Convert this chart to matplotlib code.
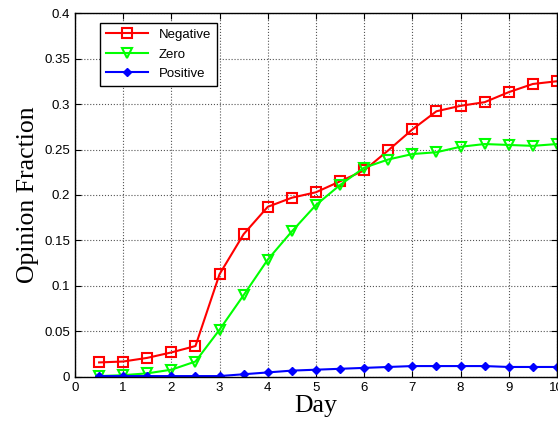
import numpy as np
import matplotlib
matplotlib.use("Agg")
import matplotlib.pyplot as plt

days = [0.5, 1, 1.5, 2, 2.5, 3, 3.5, 4, 4.5, 5, 5.5, 6, 6.5, 7, 7.5, 8, 8.5, 9, 9.5, 10]
negative = [0.016, 0.017, 0.021, 0.027, 0.034, 0.113, 0.157, 0.187, 0.197, 0.203,
            0.215, 0.227, 0.249, 0.272, 0.292, 0.298, 0.302, 0.313, 0.322, 0.325]
zero = [0.001, 0.002, 0.004, 0.008, 0.017, 0.052, 0.090, 0.129, 0.160, 0.189,
        0.211, 0.230, 0.239, 0.245, 0.247, 0.253, 0.256, 0.255, 0.254, 0.256]
positive = [0.001, 0.001, 0.001, 0.001, 0.001, 0.001, 0.003, 0.005, 0.007, 0.008,
            0.009, 0.010, 0.011, 0.012, 0.012, 0.012, 0.012, 0.011, 0.011, 0.011]

plt.rcParams['font.family'] = ['Liberation Sans', 'DejaVu Sans']

fig = plt.figure(figsize=(5.58, 4.28), dpi=100)
ax = fig.add_axes([0.1344, 0.1192, 0.8636, 0.8504])

ax.plot(days, negative, color='red', lw=1.5, marker='s', ms=7, mfc='none',
        mec='red', mew=1.5, label='Negative')
ax.plot(days, zero, color='#00ff00', lw=1.5, marker='v', ms=7.5, mfc='none',
        mec='#00ff00', mew=1.5, label='Zero')
ax.plot(days, positive, color='blue', lw=1.5, marker='D', ms=4,
        mfc='blue', mec='blue', label='Positive')

ax.set_xlim(0, 10)
ax.set_ylim(0, 0.4)
ax.set_xticks(np.arange(0, 11, 1))
ax.set_yticks(np.arange(0, 0.401, 0.05))
ax.set_yticklabels(['0', '0.05', '0.1', '0.15', '0.2', '0.25', '0.3', '0.35', '0.4'])
ax.tick_params(direction='in', top=True, right=True, labelsize=9.5, length=4)
ax.grid(True, color='#555555', linestyle=':', linewidth=0.8)
for s in ax.spines.values():
    s.set_linewidth(1.0)

ax.set_xlabel('Day', family='Liberation Serif', fontsize=18.5, labelpad=1)
ax.set_ylabel('Opinion Fraction', family='Liberation Serif', fontsize=18.5, labelpad=4)

leg = ax.legend(loc='upper left', bbox_to_anchor=(0.052, 0.973), fontsize=9.5,
                fancybox=False, edgecolor='black', framealpha=1, borderaxespad=0,
                handlelength=3.2, borderpad=0.45, labelspacing=0.55)
leg.get_frame().set_linewidth(1.0)

fig.savefig('out.png', dpi=100)
